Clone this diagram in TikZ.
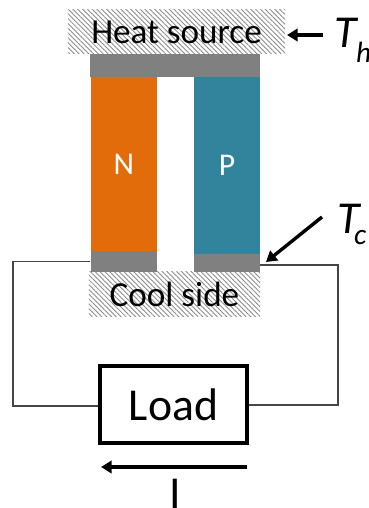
\documentclass[tikz,border=0pt]{standalone}
\usepackage{fontspec}
\setmainfont{Carlito}
\usepackage{xcolor}
\usetikzlibrary{arrows.meta, patterns.meta}
\definecolor{nleg}{RGB}{227,108,10}
\definecolor{pleg}{RGB}{49,132,155}
\definecolor{contact}{RGB}{128,128,128}
\definecolor{wirecol}{RGB}{70,70,70}
\tikzset{
  hatchbox/.style={inner sep=0pt, font=\fontsize{30}{32}\selectfont,
    pattern={Lines[angle=-45,distance=2.9pt,line width=0.75pt]}, pattern color=black!45},
  leg/.style={inner sep=0pt, text=white, font=\fontsize{27}{29}\selectfont},
  contactbox/.style={inner sep=0pt, fill=contact},
  wire/.style={draw=wirecol, line width=0.9pt},
  bigarrow/.style={line width=2.9pt, -{Triangle[length=9pt,width=10.5pt]}},
  templabel/.style={inner sep=0pt, font=\fontsize{39}{41}\selectfont\itshape}
}
\begin{document}
\begin{tikzpicture}[x=0.03cm,y=-0.03cm]
\useasboundingbox (0,0) rectangle (369,508);
% --- hot and cold plates ---
\node[hatchbox, minimum width=6.51cm, minimum height=1.32cm] (heat) at (176.5,32) {Heat source};
\node[hatchbox, minimum width=5.13cm, minimum height=1.335cm] (cool) at (174.5,294) {Cool side};
\node[contactbox, minimum width=5.085cm, minimum height=0.69cm] (top) at (175.25,65.5) {};
% --- the two legs ---
\node[leg, fill=nleg, minimum width=1.995cm, minimum height=5.22cm] (nleg) at (123.75,164) {N};
\node[leg, fill=pleg, minimum width=1.98cm, minimum height=5.31cm] (pleg) at (227,165.5) {P};
\node[contactbox, minimum width=1.995cm, minimum height=0.615cm] (nfoot) at (123.75,261.25) {};
\node[contactbox, minimum width=1.98cm, minimum height=0.525cm] (pfoot) at (227,262.75) {};
% --- load and wires ---
\node[draw, line width=3pt, minimum width=4.42cm, minimum height=2.32cm, inner sep=0pt,
  font=\fontsize{39}{41}\selectfont] (load) at (173.5,404.5) {Load};
\coordinate (nout) at (nfoot.west);
\coordinate (pout) at (260,265);
\draw[wire] (nout) -- (13,261.25) -- (13,406) -- (load.west |- 0,406);
\draw[wire] (pout) -- (338,265) -- (338,405) -- (load.east |- 0,405);
% --- temperatures and current ---
\node[templabel, anchor=west] (Th) at (334,33) {T};
\node[inner sep=0pt, anchor=west, font=\fontsize{25}{27}\selectfont\itshape] (hsub) at (356,52) {h};
\node[templabel, anchor=west] (Tc) at (337,219) {T};
\node[inner sep=0pt, anchor=west, font=\fontsize{25}{27}\selectfont\itshape] (csub) at (354,238) {c};
\coordinate (thstart) at (323,35);
\coordinate (tcstart) at (322,217);
\coordinate (tcend) at (266,262);
\coordinate (thend) at (287,35);
\draw[bigarrow] (thstart) -- (thend);
\draw[bigarrow] (tcstart) -- (tcend);
\coordinate (istart) at (247,467);
\coordinate (iend) at (101,467);
\draw[bigarrow] (istart) -- (iend);
\node[inner sep=0pt, anchor=base, font=\fontsize{39}{41}\selectfont] (cur) at (175,508) {I};
\end{tikzpicture}
\end{document}
